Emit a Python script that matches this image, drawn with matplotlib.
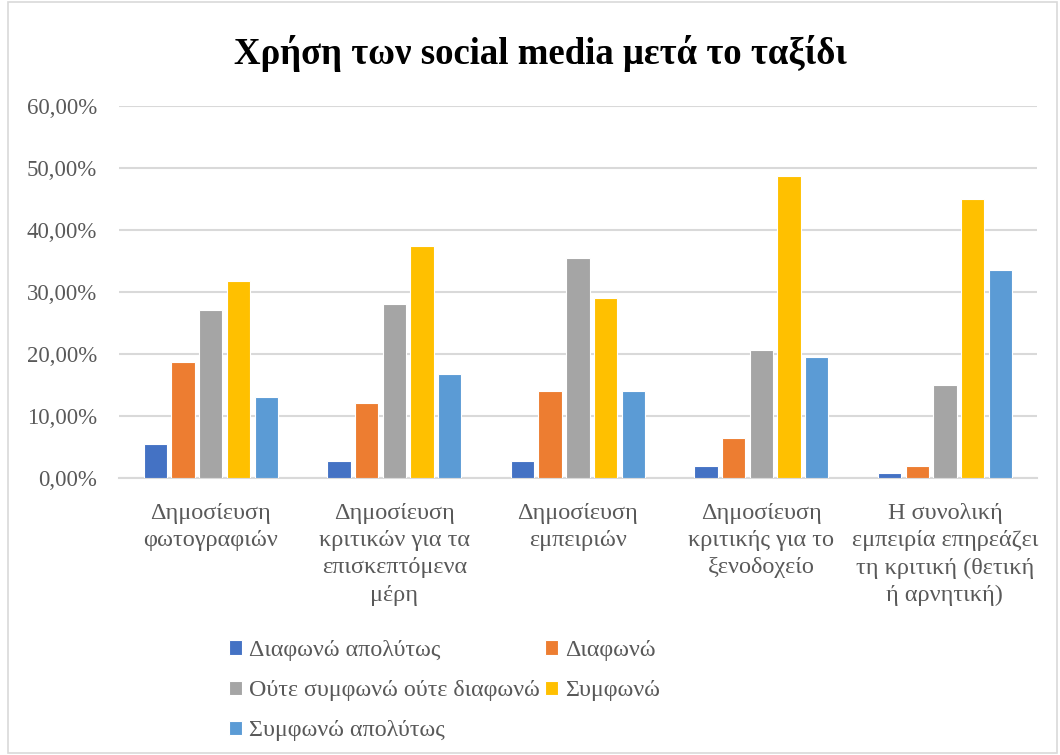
import numpy as np
import matplotlib
matplotlib.use('Agg')
import matplotlib.pyplot as plt
from matplotlib.patches import Rectangle
from matplotlib.ticker import FuncFormatter, MultipleLocator

plt.rcParams['font.family'] = ['Liberation Serif', 'DejaVu Serif']

categories = [
    'Δημοσίευση\nφωτογραφιών',
    'Δημοσίευση\nκριτικών για τα\nεπισκεπτόμενα\nμέρη',
    'Δημοσίευση\nεμπειριών',
    'Δημοσίευση\nκριτικής για το\nξενοδοχείο',
    'Η συνολική\nεμπειρία επηρεάζει\nτη κριτική (θετική\nή αρνητική)',
]
series_names = ['Διαφωνώ απολύτως', 'Διαφωνώ', 'Ούτε συμφωνώ ούτε διαφωνώ',
                'Συμφωνώ', 'Συμφωνώ απολύτως']
# ποσοστά ανά κατηγορία (%)
diafono_apolytos = [5.6, 2.8, 2.8, 1.9, 0.9]
diafono = [18.7, 12.1, 14.0, 6.5, 1.9]
oute = [27.1, 28.0, 35.5, 20.6, 15.0]
symfono = [31.8, 37.4, 29.0, 48.6, 44.9]
symfono_apolytos = [13.1, 16.8, 14.0, 19.6, 33.6]
colors = ['#4472C4', '#ED7D31', '#A5A5A5', '#FFC000', '#5B9BD5']

values = [diafono_apolytos, diafono, oute, symfono, symfono_apolytos]
text_col = '#595959'
grid_col = '#D9D9D9'

fig = plt.figure(figsize=(10.6, 7.55), dpi=100)
fig.patches.append(Rectangle((0.008, 0.002), 0.989, 0.996, transform=fig.transFigure,
                             fill=False, edgecolor='#D9D9D9', linewidth=1.2))
ax = fig.add_axes([0.1123, 0.3665, 0.8657, 0.4935])

x = np.arange(len(categories))
step = 0.151
bars = []
for i, (vals, col) in enumerate(zip(values, colors)):
    b = ax.bar(x + (i - 2) * step, vals, width=0.127, color=col,
               edgecolor='white', linewidth=0.8, label=series_names[i], zorder=3)
    bars.append(b)

ax.set_xlim(-0.5, len(categories) - 0.5)
ax.set_ylim(0, 60)
ax.yaxis.set_major_locator(MultipleLocator(10))
ax.yaxis.set_major_formatter(FuncFormatter(lambda v, p: ('%.2f%%' % v).replace('.', ',')))
ax.grid(axis='y', color=grid_col, linewidth=1.5, zorder=0)
for s in ['top', 'right', 'left']:
    ax.spines[s].set_visible(False)
ax.spines['bottom'].set_color(grid_col)
ax.spines['bottom'].set_linewidth(1.5)
ax.tick_params(axis='both', length=0, labelcolor=text_col)
ax.tick_params(axis='y', pad=16, labelsize=16.5)
ax.tick_params(axis='x', pad=18, labelsize=17.5)
ax.set_xticks(x)
ax.set_xticklabels(categories, linespacing=1.38)

fig.text(0.51, 0.929, 'Χρήση των social media μετά το ταξίδι', ha='center', va='center',
         fontsize=26.5, fontweight='bold', color='black')

order = [0, 2, 4, 1, 3]
leg = fig.legend([bars[i] for i in order], [series_names[i] for i in order],
                 loc='upper left', bbox_to_anchor=(0.207, 0.165), ncol=2,
                 frameon=False, fontsize=17.3, handlelength=0.55, handleheight=0.55,
                 handletextpad=0.3, columnspacing=0.2, labelspacing=0.8,
                 borderaxespad=0)
for t in leg.get_texts():
    t.set_color(text_col)

fig.savefig('out.png', dpi=100)
